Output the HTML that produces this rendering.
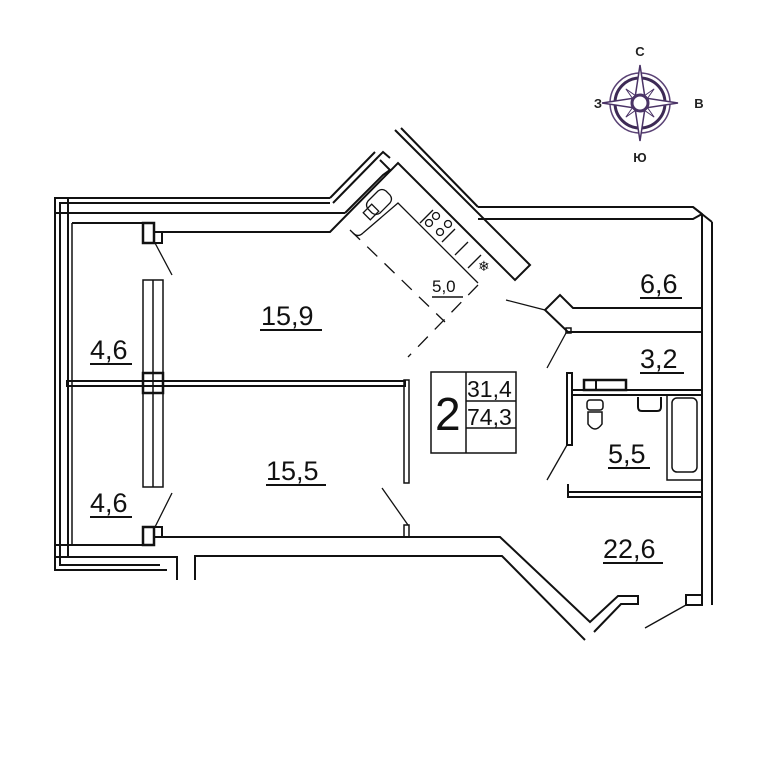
<!DOCTYPE html>
<html><head><meta charset="utf-8"><style>
html,body{margin:0;padding:0;background:#fff;width:768px;height:768px;overflow:hidden}
text{font-family:"Liberation Sans",sans-serif}
</style></head><body>
<svg width="768" height="768" viewBox="0 0 768 768" xmlns="http://www.w3.org/2000/svg">
<g fill="none" stroke="#111" stroke-width="2">
<!-- left balcony outer frame -->
<polyline points="330,198 55,198 55,570 167,570"/>
<polyline points="330,203 60,203 60,565 160,565"/>
<polyline points="345,213 68,213 68,545 143,545"/>
<polyline points="68,557 177,557 177,580"/>
<line x1="72" y1="223" x2="72" y2="545" stroke-width="1.5"/>
<line x1="72" y1="223" x2="143" y2="223"/>
<rect x="55" y="198" width="13" height="15" stroke-width="2"/>
<rect x="55" y="545" width="13" height="12" stroke-width="2"/>
<!-- columns -->
<rect x="143" y="223" width="11" height="20" stroke-width="2.5"/>
<rect x="154" y="232" width="8" height="11"/>
<rect x="143" y="527" width="11" height="18" stroke-width="2.5"/>
<rect x="154" y="527" width="8" height="10"/>
<!-- windows -->
<rect x="143" y="280" width="20" height="207" stroke-width="1.5"/>
<line x1="153" y1="280" x2="153" y2="487" stroke-width="1.5"/>
<rect x="143" y="373" width="20" height="20" stroke-width="2.5"/>
<!-- middle wall -->
<rect x="67" y="381" width="338" height="5" stroke-width="2"/>
<!-- room 15.9 top & kitchen -->
<polyline points="162,232 330,232 398,163 515,280 530,265 395,130"/>
<polyline points="330,198 375,152"/>
<polyline points="333,203 378,157"/>
<polyline points="345,213 383,175 390,170 380,160"/>
<polyline points="378,157 383,152 390,158"/>
<polyline points="401,128 478,207"/>
<polyline points="478,207 693,207 702,214 702,605"/>
<polyline points="478,219 693,219 702,214"/>
<line x1="712" y1="222" x2="712" y2="605"/>
<line x1="693" y1="207" x2="712" y2="222"/>
<!-- 6.6 / 3.2 walls -->
<polyline points="702,308 573,308 560,295 545,310 568,332 702,332"/>
<rect x="566" y="328" width="5" height="5" stroke-width="1.5"/>
<!-- bathroom -->
<rect x="567" y="373" width="5" height="72" stroke-width="2"/>
<polyline points="572,390 702,390"/>
<polyline points="572,395 702,395"/>
<rect x="584" y="380" width="42" height="10" stroke-width="2.5"/>
<line x1="596" y1="380" x2="596" y2="390"/>
<polyline points="568,484 568,497 702,497"/>
<polyline points="568,492 702,492"/>
<rect x="667" y="395" width="35" height="85" stroke-width="1.5"/>
<rect x="672" y="398" width="25" height="74" rx="5" stroke-width="1.5"/>
<path d="M638,397 v10 q0,4 4,4 h15 q4,0 4,-4 v-10" stroke-width="2"/>
<rect x="587" y="400" width="16" height="10" rx="3" stroke-width="1.5"/>
<path d="M588,412 h14 v12 q-7,10 -14,0 z" stroke-width="1.5"/>
<!-- center wall -->
<rect x="404" y="380" width="5" height="103" stroke-width="1.5"/>
<rect x="404" y="525" width="5" height="12" stroke-width="1.5"/>
<!-- bottom wall -->
<polyline points="162,537 500,537 590,622 618,596 638,596 638,604 621,604 594,632"/>
<polyline points="195,580 195,556 502,556 585,640"/>
<rect x="686" y="595" width="16" height="10" stroke-width="2"/>
<!-- kitchen counter -->
<g stroke-width="1.3">
<path d="M363,233 q-5,5 -10,0"/>
<polyline points="363,233 398,203 478,283"/>
<line x1="420" y1="223" x2="433" y2="210"/>
<line x1="442" y1="242" x2="455" y2="229"/>
<line x1="455" y1="255" x2="468" y2="242"/>
<line x1="468" y1="268" x2="481" y2="255"/>
<path d="M368,201 l10,-10 q4,-3 8,0 l4,4 q3,4 0,8 l-10,10 q-4,3 -8,0 l-4,-4 q-3,-4 0,-8 z"/>
<rect x="365" y="207" width="12" height="10" transform="rotate(-45 371 212)"/>
<circle cx="429" cy="223" r="3.5"/><circle cx="436" cy="216" r="3.5"/>
<circle cx="448" cy="224" r="3.5"/><circle cx="440" cy="232" r="3.5"/>
</g>
<line x1="350" y1="230" x2="445" y2="322" stroke-width="1.3" stroke-dasharray="14,10"/>
<line x1="478" y1="285" x2="408" y2="357" stroke-width="1.3" stroke-dasharray="14,10"/>
<!-- door swings -->
<g stroke-width="1.3">
<line x1="155" y1="243" x2="172" y2="275"/>
<line x1="155" y1="527" x2="172" y2="493"/>
<line x1="408" y1="525" x2="382" y2="488"/>
<line x1="506" y1="300" x2="545" y2="310"/>
<line x1="566" y1="333" x2="547" y2="368"/>
<line x1="567" y1="445" x2="547" y2="480"/>
<line x1="686" y1="605" x2="645" y2="628"/>
</g>
<!-- info box -->
<rect x="431" y="372" width="85" height="81" stroke-width="1.5"/>
<line x1="466" y1="372" x2="466" y2="453" stroke-width="1.5"/>
<line x1="466" y1="401" x2="516" y2="401" stroke-width="1.5"/>
<line x1="466" y1="428" x2="516" y2="428" stroke-width="1.5"/>
<!-- underlines -->
<g stroke-width="2">
<line x1="260" y1="330" x2="322" y2="330"/>
<line x1="266" y1="485" x2="326" y2="485"/>
<line x1="90" y1="364" x2="132" y2="364"/>
<line x1="90" y1="517" x2="132" y2="517"/>
<line x1="432" y1="297" x2="463" y2="297" stroke-width="1.5"/>
<line x1="640" y1="298" x2="682" y2="298"/>
<line x1="640" y1="373" x2="684" y2="373"/>
<line x1="608" y1="468" x2="650" y2="468"/>
<line x1="603" y1="563" x2="663" y2="563"/>
</g>
</g>
<g fill="#111" font-size="27">
<text x="261" y="325">15,9</text>
<text x="266" y="480">15,5</text>
<text x="90" y="359">4,6</text>
<text x="90" y="512">4,6</text>
<text x="432" y="292" font-size="17">5,0</text>
<text x="640" y="293">6,6</text>
<text x="640" y="368">3,2</text>
<text x="608" y="463">5,5</text>
<text x="603" y="558">22,6</text>
<text x="435" y="430" font-size="46">2</text>
<text x="467" y="397" font-size="23">31,4</text>
<text x="467" y="425" font-size="23">74,3</text>
</g>
<text x="478" y="271" font-size="14" fill="#111">❄</text>
<!-- compass -->
<g transform="translate(640,103)">
<circle r="30" fill="none" stroke="#5a4275" stroke-width="1.5"/>
<circle r="25" fill="none" stroke="#3d2a55" stroke-width="3"/>
<polygon points="0,-38 5,-5 38,0 5,5 0,38 -5,5 -38,0 -5,-5" fill="#fff" stroke="#4a3366" stroke-width="1.5"/>
<polygon points="0,-20 3,-3 20,0 3,3 0,20 -3,3 -20,0 -3,-3" fill="#fff" stroke="#4a3366" stroke-width="1" transform="rotate(45)"/>
<circle r="8" fill="#fff" stroke="#4a3366" stroke-width="3"/>
</g>
<g font-size="13" font-weight="bold" fill="#222" text-anchor="middle">
<text x="640" y="56">С</text>
<text x="598" y="108">З</text>
<text x="699" y="108">В</text>
<text x="640" y="162">Ю</text>
</g>
</svg>
</body></html>
